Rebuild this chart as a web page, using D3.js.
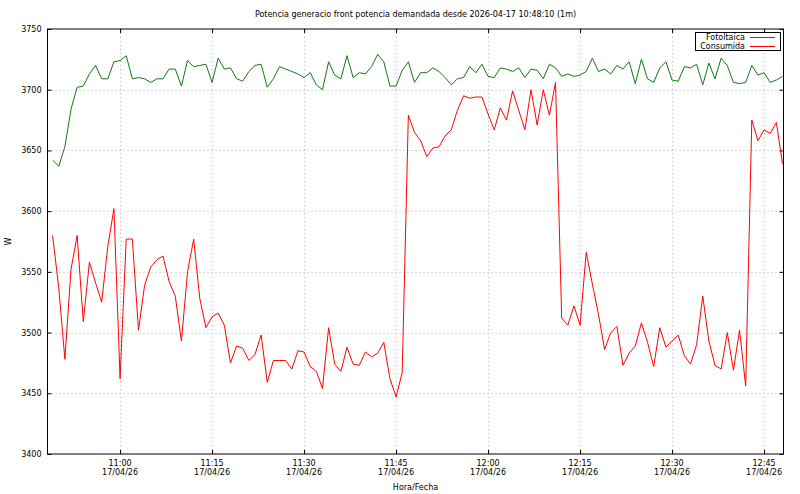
<!DOCTYPE html>
<html>
<head>
<meta charset="utf-8">
<script src="https://cdn.jsdelivr.net/npm/d3@7"></script>
<style>
  body { margin: 0; background: #fff; }
  svg { font-family: "DejaVu Sans", sans-serif; font-size: 8px; }
</style>
</head>
<body>
<svg class="chart"></svg>
<script>
// one sample per minute, first one at 10:49
var startTime = new Date(2026, 3, 17, 10, 49, 0);
var seriesNames = ["Fotoltaica", "Consumida"];
var seriesColors = ["#117711", "#ff0000"];

var fotoltaica = [
  3642,3637,3653,3684,3702,3703,3713,3720,3709,3709,
  3723,3724,3728,3709,3710,3709,3706,3709,3709,3717,
  3717,3703,3724,3719,3720,3721,3706,3726,3717,3718,
  3709,3707,3715,3720,3721,3702,3709,3719,3717,3715,
  3713,3710,3714,3704,3700,3723,3712,3709,3728,3710,
  3714,3713,3719,3729,3723,3703,3703,3716,3723,3706,
  3714,3714,3718,3715,3710,3704,3709,3710,3719,3714,
  3721,3711,3710,3718,3717,3715,3718,3710,3717,3716,
  3709,3721,3718,3711,3713,3711,3712,3715,3726,3715,
  3717,3713,3720,3717,3723,3705,3725,3709,3706,3718,
  3723,3708,3707,3719,3718,3721,3704,3722,3709,3726,
  3720,3706,3705,3706,3720,3712,3714,3706,3708,3711
];

var consumida = [
  3580,3537,3478,3552,3580,3509,3558,3541,3525,3571,
  3602,3462,3577,3577,3502,3539,3554,3560,3563,3542,
  3530,3493,3550,3577,3528,3504,3513,3516,3506,3475,
  3489,3487,3477,3482,3498,3459,3477,3477,3477,3470,
  3485,3484,3472,3468,3454,3504,3474,3468,3488,3474,
  3473,3484,3480,3483,3492,3462,3447,3467,3679,3665,
  3658,3645,3652,3653,3662,3667,3683,3695,3693,3694,
  3694,3680,3667,3685,3675,3699,3683,3667,3700,3671,
  3700,3679,3706,3512,3506,3522,3506,3566,3540,3515,
  3486,3500,3505,3473,3483,3489,3508,3492,3472,3504,
  3488,3493,3498,3481,3474,3490,3530,3493,3473,3470,
  3500,3469,3502,3456,3675,3658,3667,3664,3673,3639
];

var yTicks = [3400, 3450, 3500, 3550, 3600, 3650, 3700, 3750];
var xStart = new Date(2026, 3, 17, 10, 48, 10);
var xEnd = new Date(2026, 3, 17, 12, 48, 10);

var width = 800, height = 494;
var margin = {top: 29, right: 16.5, bottom: 40, left: 47.5};

var chart = d3.select(".chart")
    .attr("width", width)
    .attr("height", height);

var x = d3.scaleTime()
    .domain([xStart, xEnd])
    .range([margin.left, width - margin.right]);

var y = d3.scaleLinear()
    .domain([3400, 3750])
    .range([height - margin.bottom, margin.top]);

var times = fotoltaica.map((d, i) => d3.timeMinute.offset(startTime, i));
var xTicks = d3.timeMinute.every(15).range(xStart, xEnd);

// dotted grid
chart.append("g")
    .selectAll("line")
    .data(yTicks.slice(1, -1))
    .enter().append("line")
    .attr("x1", x.range()[0]).attr("x2", x.range()[1])
    .attr("y1", d => Math.round(y(d)) + 0.5).attr("y2", d => Math.round(y(d)) + 0.5)
    .attr("stroke", "#b4b4b4").attr("stroke-dasharray", "1,3");

chart.append("g")
    .selectAll("line")
    .data(xTicks)
    .enter().append("line")
    .attr("x1", d => Math.round(x(d)) + 0.5).attr("x2", d => Math.round(x(d)) + 0.5)
    .attr("y1", y.range()[1]).attr("y2", y.range()[0])
    .attr("stroke", "#b4b4b4").attr("stroke-dasharray", "1,3");

// axes, ticks pointing inward on all four sides
var fmtTime = d3.timeFormat("%H:%M"), fmtDate = d3.timeFormat("%d/%m/%y");

var xAxis = g => g
    .attr("transform", "translate(0," + y.range()[0] + ")")
    .call(d3.axisBottom(x).tickValues(xTicks).tickSize(-4).tickPadding(9).tickFormat(""))
    .call(g => g.select(".domain").remove());

var xAxisTop = g => g
    .attr("transform", "translate(0," + y.range()[1] + ")")
    .call(d3.axisTop(x).tickValues(xTicks).tickSize(-4).tickFormat(""))
    .call(g => g.select(".domain").remove());

var yAxis = g => g
    .attr("transform", "translate(" + x.range()[0] + ",0)")
    .call(d3.axisLeft(y).tickValues(yTicks).tickSize(-4).tickPadding(6).tickFormat(d3.format("d")))
    .call(g => g.select(".domain").remove());

var yAxisRight = g => g
    .attr("transform", "translate(" + x.range()[1] + ",0)")
    .call(d3.axisRight(y).tickValues(yTicks).tickSize(-4).tickFormat(""))
    .call(g => g.select(".domain").remove());

chart.append("g").call(xAxis);
chart.append("g").call(xAxisTop);
chart.append("g").call(yAxis);
chart.append("g").call(yAxisRight);

chart.selectAll(".tick text")
    .attr("font-family", "DejaVu Sans")
    .attr("font-size", 8)
    .attr("fill", "#000");

// two line time labels under x axis
var xl = chart.append("g").selectAll("text")
    .data(xTicks)
    .enter().append("text")
    .attr("text-anchor", "middle")
    .attr("x", d => x(d))
    .attr("y", y.range()[0] + 12);
xl.append("tspan").attr("x", d => x(d)).text(d => fmtTime(d));
xl.append("tspan").attr("x", d => x(d)).attr("dy", 9).text(d => fmtDate(d));

// frame
chart.append("rect")
    .attr("x", x.range()[0]).attr("y", y.range()[1])
    .attr("width", x.range()[1] - x.range()[0])
    .attr("height", y.range()[0] - y.range()[1])
    .attr("fill", "none").attr("stroke", "#000");

chart.append("clipPath").attr("id", "plot")
    .append("rect")
    .attr("x", x.range()[0]).attr("y", y.range()[1])
    .attr("width", x.range()[1] - x.range()[0])
    .attr("height", y.range()[0] - y.range()[1]);

var line = d3.line()
    .x((d, i) => x(times[i]))
    .y(d => y(d));

[fotoltaica, consumida].forEach(function(values, k) {
  chart.append("path")
      .datum(values)
      .attr("clip-path", "url(#plot)")
      .attr("fill", "none")
      .attr("stroke", seriesColors[k])
      .attr("stroke-width", 1)
      .attr("d", line);
});

// title and axis labels
chart.append("text")
    .attr("x", (x.range()[0] + x.range()[1]) / 2)
    .attr("y", 17)
    .attr("text-anchor", "middle")
    .text("Potencia generacio front potencia demandada desde 2026-04-17 10:48:10 (1m)");

chart.append("text")
    .attr("x", (x.range()[0] + x.range()[1]) / 2)
    .attr("y", 490)
    .attr("text-anchor", "middle")
    .text("Hora/Fecha");

chart.append("text")
    .attr("transform", "translate(11," + (y.range()[0] + y.range()[1]) / 2 + ") rotate(-90)")
    .attr("text-anchor", "middle")
    .text("W");

// legend
var legend = chart.append("g");
legend.append("rect")
    .attr("x", 695.5).attr("y", 32.5)
    .attr("width", 85).attr("height", 18)
    .attr("fill", "#fff").attr("stroke", "#000");

var item = legend.selectAll(".item")
    .data(seriesNames)
    .enter().append("g")
    .attr("transform", (d, i) => "translate(0," + (37 + i * 9) + ")");
item.append("text")
    .attr("x", 745).attr("dy", "0.35em")
    .attr("text-anchor", "end")
    .text(d => d);
item.append("line")
    .attr("x1", 750).attr("x2", 775)
    .attr("y1", 0.5).attr("y2", 0.5)
    .attr("stroke", (d, i) => seriesColors[i]);
</script>
</body>
</html>
